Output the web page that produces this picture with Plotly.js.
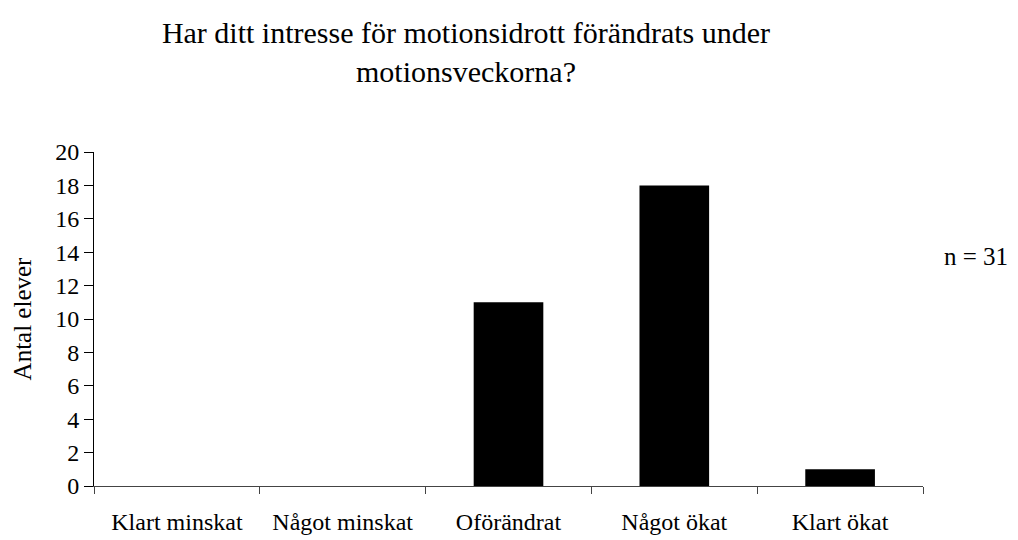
<!DOCTYPE html>
<html>
<head>
<meta charset="utf-8">
<script src="https://cdn.plot.ly/plotly-3.0.1.min.js"></script>
<style>html,body{margin:0;padding:0;background:#fff;}#chart{width:1018px;height:540px;}</style>
</head>
<body>
<div id="chart"></div>
<script>
const categories = ["Klart minskat", "Något minskat", "Oförändrat", "Något ökat", "Klart ökat"];
const antalElever = [0, 0, 11, 18, 1];
const yTicks = [0, 2, 4, 6, 8, 10, 12, 14, 16, 18, 20];
const titleText = "Har ditt intresse för motionsidrott förändrats under<br>motionsveckorna?";
const yTitle = "Antal elever";
const noteText = "n = 31";

const FONT = "Times New Roman, Liberation Serif, DejaVu Serif, serif";

const trace = {
  type: "bar",
  x: categories,
  y: antalElever,
  marker: { color: "#000000", line: { width: 0 } },
  hoverinfo: "x+y"
};

const layout = {
  width: 1018,
  height: 540,
  paper_bgcolor: "#ffffff",
  plot_bgcolor: "#ffffff",
  font: { family: FONT, color: "#000000", size: 24 },
  margin: { l: 94, r: 95, t: 152, b: 54 },
  showlegend: false,
  bargap: 0.58,
  title: {
    text: titleText,
    font: { family: FONT, size: 30, color: "#000000" },
    x: 466 / 1018,
    xanchor: "center",
    xref: "container",
    y: 1 - 43 / 540,
    yanchor: "middle",
    yref: "container"
  },
  xaxis: {
    type: "category",
    categoryorder: "array",
    categoryarray: categories,
    showline: true,
    linecolor: "#444444",
    linewidth: 1,
    ticks: "outside",
    tickson: "boundaries",
    ticklen: 7,
    tickcolor: "#444444",
    tickwidth: 1,
    showgrid: false,
    zeroline: false,
    ticklabelstandoff: 14,
    tickfont: { family: FONT, size: 24, color: "#000000" },
    fixedrange: true
  },
  yaxis: {
    range: [0, 20],
    tickvals: yTicks,
    ticktext: yTicks.map(String),
    showline: true,
    linecolor: "#000000",
    linewidth: 1,
    ticks: "outside",
    ticklen: 9,
    tickcolor: "#000000",
    tickwidth: 1,
    showgrid: false,
    zeroline: false,
    tickfont: { family: FONT, size: 24, color: "#000000" },
    title: { text: yTitle, font: { family: FONT, size: 25, color: "#000000" }, standoff: 16 },
    fixedrange: true
  },
  annotations: [{
    text: noteText,
    xref: "paper", yref: "paper",
    x: (976 - 94) / 829, y: (486 - 256) / 334,
    xanchor: "center", yanchor: "middle",
    showarrow: false,
    font: { family: FONT, size: 25, color: "#000000" }
  }]
};

Plotly.newPlot("chart", [trace], layout, { displayModeBar: false, staticPlot: true });
</script>
</body>
</html>
